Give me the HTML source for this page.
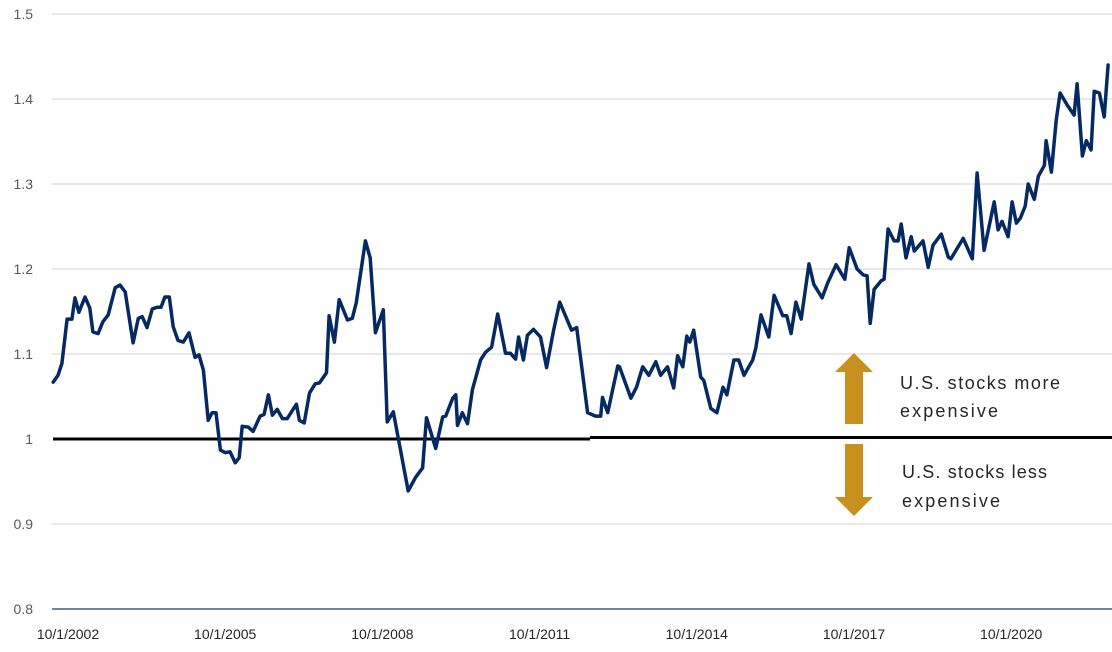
<!DOCTYPE html>
<html><head><meta charset="utf-8"><style>
body{margin:0;background:#fff;}
svg text{font-family:"Liberation Sans",sans-serif;}
</style></head><body>
<svg id="chart" width="1112" height="647" viewBox="0 0 1112 647" xmlns="http://www.w3.org/2000/svg">
<g id="grid"></g>
<g id="yaxis"></g>
<g id="xaxis"></g>
<line x1="53" y1="439" x2="590" y2="439" stroke="#000" stroke-width="3"/>
<line x1="590" y1="437.5" x2="1112" y2="437.5" stroke="#000" stroke-width="3"/>
<path id="series" fill="none" stroke="#052a63" stroke-width="3.5" stroke-linejoin="round" stroke-linecap="round"/>
<polygon points="854,353 873,372 863,372 863,424 845,424 845,372 835,372" fill="#c8901e"/>
<polygon points="854,516 873,497 863,497 863,444 845,444 845,497 835,497" fill="#c8901e"/>
<text x="900" y="389" font-size="18" fill="#262626" textLength="160">U.S. stocks more</text>
<text x="900" y="417" font-size="18" fill="#262626" textLength="98">expensive</text>
<text x="902" y="478" font-size="18" fill="#262626" textLength="145">U.S. stocks less</text>
<text x="902" y="507" font-size="18" fill="#262626" textLength="98">expensive</text>
</svg>
<script>
const months = [-3.4,-2.3,-1.4,-0.2,0.9,1.6,2.5,3.9,5.0,5.7,6.9,8.0,9.2,10.8,11.9,13.1,14.9,16.1,17.0,18.1,19.3,20.4,21.3,22.2,23.2,24.1,25.2,26.4,27.7,29.1,30.0,31.0,32.1,33.0,33.9,34.9,36.0,37.1,38.3,39.2,39.9,41.3,42.4,44.0,44.9,45.9,46.8,47.9,49.1,50.2,52.3,53.0,54.1,55.3,56.6,57.6,59.2,59.8,61.0,62.1,64.0,65.1,66.0,68.1,69.2,70.4,72.2,73.1,74.5,77.9,79.6,81.2,82.1,84.2,85.8,86.5,88.1,88.8,89.2,90.3,91.5,92.6,94.5,95.6,97.0,98.4,100.2,101.3,102.5,103.2,104.3,105.2,106.6,108.2,109.6,111.2,112.6,114.0,115.3,116.5,119.0,120.8,122.0,122.4,123.6,125.9,126.3,128.9,130.2,131.6,133.0,134.6,135.7,137.3,138.7,139.6,140.8,141.7,142.4,143.3,144.9,145.6,147.2,148.6,150.0,150.9,152.5,153.6,154.8,156.8,157.5,158.7,160.5,161.7,163.7,164.6,165.6,166.7,167.9,169.7,170.8,172.7,174.0,175.9,177.9,178.9,180.7,182.1,183.0,183.7,184.6,186.2,186.9,187.8,189.2,190.1,190.8,191.9,193.1,193.8,195.8,197.0,198.1,200.0,201.6,202.2,205.0,207.1,208.2,209.8,212.1,213.0,213.9,215.3,216.2,217.2,218.1,219.2,219.9,221.3,222.2,223.6,224.0,225.2,226.3,227.2,228.8,230.4,231.1,232.3,233.2,234.3,235.0,236.2,237.3,238.2];
const values = [1.067,1.075,1.089,1.141,1.141,1.166,1.149,1.167,1.154,1.126,1.124,1.138,1.146,1.178,1.181,1.173,1.113,1.142,1.144,1.131,1.153,1.155,1.155,1.167,1.167,1.132,1.116,1.114,1.125,1.096,1.099,1.081,1.022,1.031,1.031,0.987,0.984,0.985,0.972,0.978,1.015,1.014,1.009,1.027,1.029,1.052,1.028,1.035,1.024,1.024,1.041,1.022,1.019,1.054,1.065,1.066,1.078,1.145,1.114,1.164,1.140,1.142,1.160,1.233,1.213,1.125,1.152,1.020,1.032,0.939,0.955,0.966,1.025,0.989,1.026,1.027,1.048,1.052,1.016,1.031,1.018,1.058,1.093,1.102,1.108,1.147,1.101,1.101,1.094,1.120,1.093,1.122,1.129,1.120,1.084,1.128,1.161,1.144,1.128,1.131,1.031,1.027,1.027,1.049,1.031,1.086,1.085,1.048,1.061,1.085,1.075,1.091,1.075,1.085,1.060,1.098,1.085,1.121,1.114,1.128,1.073,1.069,1.036,1.031,1.061,1.052,1.093,1.093,1.075,1.093,1.107,1.146,1.120,1.169,1.145,1.145,1.124,1.161,1.141,1.206,1.182,1.166,1.184,1.205,1.188,1.225,1.200,1.193,1.192,1.136,1.176,1.186,1.188,1.247,1.233,1.233,1.253,1.213,1.238,1.221,1.233,1.202,1.228,1.241,1.214,1.212,1.236,1.212,1.313,1.222,1.279,1.246,1.256,1.238,1.279,1.254,1.260,1.274,1.300,1.282,1.309,1.322,1.351,1.314,1.375,1.407,1.393,1.381,1.418,1.333,1.351,1.340,1.409,1.407,1.379,1.440];
const yTicks = [1.5,1.4,1.3,1.2,1.1,1,0.9,0.8];
const yTickLabels = ["1.5","1.4","1.3","1.2","1.1","1","0.9","0.8"];
const xTickMonths = [0,36,72,108,144,180,216];
const xTickLabels = ["10/1/2002","10/1/2005","10/1/2008","10/1/2011","10/1/2014","10/1/2017","10/1/2020"];

const NS="http://www.w3.org/2000/svg";
const xScale = m => 68 + m*157.2/36;
const yScale = v => 439 - (v-1)*850;
const grid=document.getElementById('grid'), ya=document.getElementById('yaxis'), xa=document.getElementById('xaxis');
yTicks.forEach((t,i)=>{
  const y=yScale(t);
  if(t!==1){
    const l=document.createElementNS(NS,'line');
    
    
    l.setAttribute('x1',52);l.setAttribute('x2',1112);l.setAttribute('y1',y);l.setAttribute('y2',y);
    l.setAttribute('stroke', t===0.8 ? '#1f3a6e' : '#d9d9d9');
    l.setAttribute('stroke-width', t===0.8 ? 1.2 : 1.3);
    grid.appendChild(l);
  }
  const tx=document.createElementNS(NS,'text');
  
  
  tx.setAttribute('x',33);tx.setAttribute('y',y+5);
  tx.setAttribute('text-anchor','end');tx.setAttribute('font-size','14');tx.setAttribute('fill','#595959');
  tx.textContent=yTickLabels[i];
  ya.appendChild(tx);
});
xTickMonths.forEach((m,i)=>{
  const tx=document.createElementNS(NS,'text');
  
  
  tx.setAttribute('x',xScale(m));tx.setAttribute('y',639);
  tx.setAttribute('text-anchor','middle');tx.setAttribute('font-size','14');tx.setAttribute('fill','#262626');
  tx.textContent=xTickLabels[i];
  xa.appendChild(tx);
});
let d='';
months.forEach((m,i)=>{ d += (i?'L':'M') + xScale(m).toFixed(1) + ',' + yScale(values[i]).toFixed(1); });
document.getElementById('series').setAttribute('d',d);
</script>
</body></html>
